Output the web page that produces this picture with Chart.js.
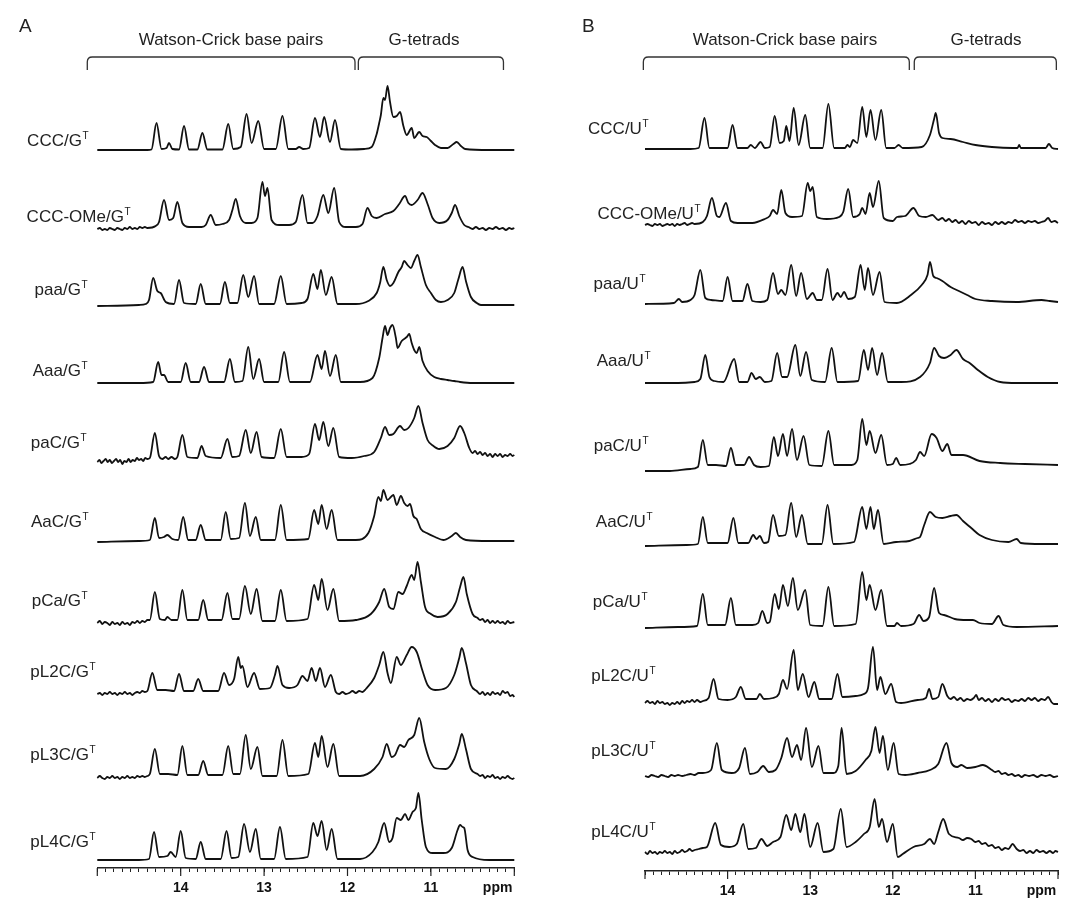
<!DOCTYPE html>
<html><head><meta charset="utf-8">
<script src="https://cdn.jsdelivr.net/npm/chart.js@4.4.1/dist/chart.umd.min.js"></script>
<style>
html,body{margin:0;padding:0;background:#fff;}
#wrap{position:relative;width:1066px;height:901px;overflow:hidden;}
.pane{position:absolute;top:0;width:533px;height:901px;}
</style></head><body>
<div id="wrap">
<div class="pane" style="left:0"><canvas id="cA" width="533" height="901"></canvas></div>
<div class="pane" style="left:533px"><canvas id="cB" width="533" height="901"></canvas></div>
</div>
<script>
// ---------------- DATA (ppm, intensity pairs) ----------------
const namesA = ['CCC/G','CCC-OMe/G','paa/G','Aaa/G','paC/G','AaC/G','pCa/G','pL2C/G','pL3C/G','pL4C/G'];
const namesB = ['CCC/U','CCC-OMe/U','paa/U','Aaa/U','paC/U','AaC/U','pCa/U','pL2C/U','pL3C/U','pL4C/U'];
const superscript = 'T';
const panelLetters = ['A','B'];
const headers = ['Watson-Crick base pairs','G-tetrads'];
const majorTicks = [14,13,12,11];
const unitLabel = 'ppm';
const bracketsA = [[15.12,11.91],[11.87,10.13]];
const bracketsB = [[15.02,11.80],[11.74,10.02]];

const A_CCC = [15.0,0, 14.40,0, 14.35,0.5, 14.29,27, 14.23,1, 14.17,2, 14.14,7, 14.10,1, 14.02,0.5, 13.96,24, 13.90,0.5, 13.80,0.5, 13.74,17, 13.68,0.5, 13.50,0.5, 13.43,26, 13.37,1, 13.28,3, 13.21,36, 13.15,7, 13.07,29, 13.00,1, 12.86,1, 12.78,34, 12.71,1, 12.62,1, 12.58,3, 12.53,1, 12.46,2, 12.39,32, 12.33,13, 12.28,33, 12.21,8, 12.15,30, 12.08,1, 11.95,0.5, 11.80,1, 11.71,3, 11.65,16, 11.62,27, 11.60,35, 11.57,52, 11.55,50, 11.52,64, 11.49,48, 11.45,33, 11.41,34, 11.37,38, 11.33,24, 11.29,15, 11.23,22, 11.20,12, 11.14,18, 11.10,14, 11.05,13, 11.00,9, 10.95,5, 10.88,2, 10.80,2, 10.73,6, 10.69,8, 10.64,4, 10.59,1, 10.30,0, 10.00,0];
const A_CCC_OMe = [15.0,-1, 14.97,0, 14.94,-2, 14.91,-1, 14.88,-2, 14.85,0, 14.82,-1, 14.79,-2, 14.76,0, 14.73,-1, 14.70,-2, 14.67,0, 14.64,-1, 14.61,1, 14.58,-1, 14.55,0, 14.52,-1, 14.49,1, 14.46,0, 14.43,1, 14.40,0, 14.30,2, 14.26,6, 14.20,28, 14.14,8, 14.09,10, 14.04,26, 13.98,5, 13.90,1, 13.75,1, 13.70,3, 13.64,13, 13.58,3, 13.50,4, 13.42,8, 13.38,18, 13.34,29, 13.29,12, 13.22,5, 13.15,5, 13.08,10, 13.02,46, 12.99,32, 12.96,40, 12.91,8, 12.82,3, 12.70,3, 12.62,6, 12.54,33, 12.48,5, 12.42,5, 12.36,12, 12.29,33, 12.23,15, 12.16,40, 12.10,6, 12.02,1, 11.90,1, 11.82,4, 11.76,20, 11.71,12, 11.65,10, 11.55,14, 11.45,17, 11.38,24, 11.31,32, 11.27,25, 11.23,23, 11.16,28, 11.10,35, 11.04,24, 10.98,10, 10.90,5, 10.80,8, 10.75,15, 10.71,23, 10.66,12, 10.60,3, 10.55,1, 10.50,-1, 10.46,1, 10.42,-1, 10.38,0, 10.34,-2, 10.30,0, 10.26,-1, 10.22,1, 10.18,-1, 10.14,0, 10.10,-2, 10.06,0, 10.03,-1, 10.00,0];
const A_paa = [15.0,-1, 14.50,0, 14.42,1, 14.38,5, 14.33,27, 14.28,14, 14.24,12, 14.18,3, 14.08,1, 14.02,25, 13.96,2, 13.82,1, 13.76,21, 13.70,1, 13.53,1, 13.47,23, 13.41,2, 13.32,2, 13.25,30, 13.19,8, 13.12,29, 13.06,1, 12.88,1, 12.80,29, 12.73,1, 12.55,2, 12.48,6, 12.41,31, 12.36,16, 12.32,35, 12.26,10, 12.19,28, 12.12,1, 11.90,1, 11.75,4, 11.65,12, 11.61,22, 11.57,38, 11.53,25, 11.49,19, 11.45,22, 11.39,33, 11.35,38, 11.32,44, 11.28,40, 11.24,37, 11.20,44, 11.16,50, 11.12,38, 11.06,20, 11.00,12, 10.94,5, 10.88,3, 10.80,5, 10.72,12, 10.67,26, 10.62,38, 10.58,24, 10.52,8, 10.45,2, 10.40,0, 10.00,0];
const A_Aaa = [15.0,0, 14.50,0, 14.33,1, 14.27,21, 14.23,8, 14.20,8, 14.15,1, 14.00,1, 13.94,20, 13.88,1, 13.78,1, 13.72,16, 13.66,1, 13.48,1, 13.41,24, 13.35,1, 13.26,2, 13.19,36, 13.13,4, 13.06,24, 13.00,1, 12.83,1, 12.76,31, 12.69,1, 12.45,1, 12.36,28, 12.31,14, 12.27,32, 12.21,7, 12.14,28, 12.08,1, 11.85,1, 11.70,5, 11.62,25, 11.58,45, 11.55,57, 11.52,48, 11.49,55, 11.46,58, 11.42,45, 11.40,35, 11.35,42, 11.29,46, 11.26,49, 11.23,40, 11.20,33, 11.17,30, 11.14,36, 11.10,22, 11.04,12, 10.96,6, 10.88,4, 10.80,3, 10.72,2, 10.65,1, 10.50,0, 10.00,0];
const A_paC = [15.0,-4, 14.975,-2, 14.95,-5, 14.925,-3, 14.90,-1, 14.875,-4, 14.85,-2, 14.825,-5, 14.80,-3, 14.775,-1, 14.75,-4, 14.725,-2, 14.70,-6, 14.675,-3, 14.65,-4, 14.625,-1, 14.60,-4, 14.575,-2, 14.55,-3, 14.525,0, 14.50,-2, 14.475,-1, 14.45,-3, 14.425,0, 14.40,-1, 14.37,0, 14.31,25, 14.26,2, 14.22,-1, 14.18,1, 14.15,-1, 14.11,1, 14.07,-1, 14.04,1, 13.98,23, 13.92,1, 13.80,0, 13.75,12, 13.70,2, 13.52,0, 13.44,19, 13.38,1, 13.30,2, 13.22,28, 13.16,5, 13.09,26, 13.03,1, 12.88,0, 12.80,29, 12.73,1, 12.55,1, 12.46,4, 12.39,34, 12.34,18, 12.29,36, 12.23,12, 12.17,30, 12.10,1, 11.95,0, 11.80,2, 11.68,6, 11.60,20, 11.55,31, 11.50,23, 11.45,24, 11.37,32, 11.32,28, 11.27,30, 11.20,40, 11.15,52, 11.10,35, 11.04,18, 10.97,12, 10.90,9, 10.80,12, 10.72,20, 10.65,32, 10.60,25, 10.54,10, 10.50,5, 10.47,7, 10.44,4, 10.41,6, 10.38,3, 10.35,5, 10.32,2, 10.29,4, 10.26,1, 10.23,4, 10.20,2, 10.17,4, 10.14,1, 10.11,3, 10.08,2, 10.05,4, 10.02,2, 10.00,3];
const A_AaC = [15.0,-1, 14.50,0, 14.37,1, 14.31,23, 14.26,3, 14.20,4, 14.16,6, 14.10,2, 14.03,1, 13.97,24, 13.91,1, 13.82,1, 13.76,16, 13.70,1, 13.52,1, 13.46,29, 13.40,2, 13.30,3, 13.23,38, 13.17,5, 13.10,24, 13.04,1, 12.87,1, 12.80,36, 12.73,1, 12.47,2, 12.40,31, 12.35,17, 12.31,36, 12.25,12, 12.19,31, 12.12,1, 11.90,1, 11.75,8, 11.68,25, 11.63,44, 11.60,40, 11.57,51, 11.52,41, 11.48,44, 11.45,46, 11.41,36, 11.36,45, 11.32,38, 11.28,35, 11.25,37, 11.21,25, 11.17,22, 11.12,12, 11.05,8, 10.95,4, 10.85,1, 10.75,5, 10.70,8, 10.65,4, 10.58,1, 10.30,0, 10.00,0];
const A_pCa = [15.0,-1, 14.97,1, 14.94,-2, 14.91,0, 14.88,-1, 14.85,-3, 14.82,0, 14.79,-2, 14.76,-1, 14.73,-3, 14.70,0, 14.67,-2, 14.64,-1, 14.61,-3, 14.58,0, 14.55,-1, 14.52,1, 14.49,-1, 14.46,1, 14.43,0, 14.40,2, 14.37,2, 14.31,30, 14.25,3, 14.19,2, 14.16,5, 14.11,2, 14.04,2, 13.98,32, 13.92,2, 13.79,2, 13.73,22, 13.67,2, 13.51,2, 13.44,29, 13.38,3, 13.30,3, 13.23,36, 13.16,8, 13.09,33, 13.02,1, 12.87,1, 12.80,32, 12.73,1, 12.48,3, 12.40,37, 12.35,22, 12.31,43, 12.24,12, 12.17,33, 12.10,1, 11.90,2, 11.72,8, 11.62,20, 11.56,33, 11.50,15, 11.45,13, 11.39,30, 11.34,28, 11.29,36, 11.23,47, 11.20,42, 11.16,60, 11.12,40, 11.07,15, 11.00,8, 10.92,5, 10.80,8, 10.70,20, 10.65,35, 10.61,45, 10.57,28, 10.50,8, 10.44,4, 10.41,2, 10.38,3, 10.35,0, 10.32,2, 10.29,-1, 10.26,1, 10.23,-1, 10.20,1, 10.17,-1, 10.14,0, 10.11,-2, 10.08,1, 10.05,-1, 10.00,0];
const A_pL2C = [15.0,-1, 14.97,0, 14.94,-2, 14.91,0, 14.88,-1, 14.85,1, 14.82,-1, 14.79,0, 14.76,-2, 14.73,0, 14.70,-1, 14.67,1, 14.64,-1, 14.61,0, 14.58,-2, 14.55,0, 14.52,1, 14.49,0, 14.46,2, 14.43,1, 14.40,2, 14.34,20, 14.28,3, 14.18,3, 14.08,2, 14.02,19, 13.96,2, 13.85,2, 13.79,14, 13.73,2, 13.55,2, 13.48,20, 13.42,8, 13.36,14, 13.31,36, 13.28,25, 13.26,27, 13.20,6, 13.12,20, 13.05,4, 12.93,5, 12.87,18, 12.84,27, 12.78,8, 12.70,5, 12.60,8, 12.54,17, 12.48,12, 12.43,25, 12.38,12, 12.33,25, 12.27,6, 12.20,18, 12.14,1, 12.10,-1, 12.06,1, 12.02,-1, 11.98,0, 11.94,2, 11.90,0, 11.86,2, 11.82,1, 11.78,4, 11.68,15, 11.62,28, 11.57,41, 11.52,20, 11.48,10, 11.41,36, 11.36,28, 11.29,38, 11.23,46, 11.17,41, 11.10,22, 11.04,8, 10.95,3, 10.82,5, 10.72,18, 10.66,35, 10.63,45, 10.58,30, 10.52,8, 10.45,2, 10.41,-1, 10.38,1, 10.35,-2, 10.32,0, 10.29,-2, 10.26,1, 10.23,-1, 10.20,0, 10.17,-2, 10.14,2, 10.11,0, 10.08,1, 10.05,-3, 10.02,-2, 10.00,-4];
const A_pL3C = [15.0,-1, 14.97,1, 14.94,-1, 14.91,-2, 14.88,0, 14.85,-1, 14.82,1, 14.79,-1, 14.76,0, 14.73,-2, 14.70,0, 14.67,-1, 14.64,1, 14.61,-1, 14.58,0, 14.55,-1, 14.52,1, 14.49,0, 14.46,1, 14.43,0, 14.40,1, 14.37,3, 14.31,28, 14.25,3, 14.15,3, 14.04,2, 13.98,31, 13.92,2, 13.79,2, 13.73,16, 13.67,2, 13.50,2, 13.43,31, 13.37,3, 13.29,3, 13.22,42, 13.16,8, 13.08,30, 13.02,1, 12.85,1, 12.78,37, 12.71,1, 12.47,3, 12.39,34, 12.35,20, 12.31,41, 12.24,10, 12.17,33, 12.10,1, 11.85,1, 11.68,8, 11.58,20, 11.53,33, 11.47,20, 11.43,22, 11.37,32, 11.32,30, 11.27,37, 11.20,42, 11.14,59, 11.08,35, 11.02,18, 10.95,9, 10.82,8, 10.72,18, 10.66,33, 10.63,43, 10.58,28, 10.52,8, 10.44,3, 10.41,1, 10.38,2, 10.35,-1, 10.32,1, 10.29,0, 10.26,2, 10.23,-1, 10.20,0, 10.17,-2, 10.14,0, 10.11,-1, 10.08,1, 10.05,-1, 10.02,-2, 10.00,-1];
const A_pL4C = [15.0,0, 14.50,0, 14.38,1, 14.32,28, 14.26,3, 14.16,4, 14.12,8, 14.06,3, 14.00,29, 13.94,2, 13.82,1, 13.76,18, 13.70,1, 13.52,1, 13.45,29, 13.39,2, 13.31,3, 13.24,36, 13.17,8, 13.10,31, 13.04,1, 12.88,1, 12.81,33, 12.74,1, 12.48,3, 12.41,37, 12.36,24, 12.31,39, 12.25,10, 12.19,31, 12.12,1, 11.85,1, 11.70,8, 11.63,18, 11.56,37, 11.50,18, 11.46,22, 11.41,42, 11.36,40, 11.31,46, 11.27,40, 11.22,48, 11.18,52, 11.15,67, 11.11,40, 11.06,13, 10.98,7, 10.85,7, 10.75,12, 10.68,30, 10.65,35, 10.62,33, 10.60,32, 10.56,10, 10.50,3, 10.30,0, 10.00,0];

const B_CCC = [15.0,0, 14.45,0, 14.35,1, 14.28,31, 14.22,1, 14.00,1, 13.94,24, 13.88,1, 13.76,1, 13.72,4, 13.67,1, 13.60,7, 13.55,1, 13.49,2, 13.43,33, 13.37,6, 13.32,8, 13.29,23, 13.25,8, 13.20,41, 13.14,4, 13.06,34, 13.00,1, 12.85,1, 12.78,45, 12.71,1, 12.58,1, 12.55,4, 12.52,2, 12.48,9, 12.43,6, 12.37,42, 12.32,12, 12.27,39, 12.21,9, 12.14,39, 12.08,1, 11.98,1, 11.93,4, 11.88,1, 11.65,2, 11.55,14, 11.50,30, 11.48,36, 11.44,16, 11.40,11, 11.30,10, 11.15,7, 11.00,4, 10.80,2, 10.55,1, 10.49,1, 10.47,4, 10.45,1, 10.15,1, 10.11,5, 10.07,1, 10.00,0];
const B_CCC_OMe = [15.0,-1, 14.97,0, 14.94,-1, 14.91,-2, 14.88,0, 14.85,-1, 14.82,0, 14.79,-2, 14.76,-1, 14.73,0, 14.70,-1, 14.67,0, 14.64,-2, 14.61,0, 14.58,-1, 14.55,0, 14.52,1, 14.49,-1, 14.46,0, 14.43,1, 14.40,0, 14.30,2, 14.25,8, 14.19,26, 14.13,8, 14.10,7, 14.02,21, 13.96,3, 13.88,1, 13.70,1, 13.55,5, 13.49,8, 13.45,14, 13.40,10, 13.35,34, 13.30,11, 13.22,7, 13.10,8, 13.03,41, 13.00,33, 12.97,37, 12.92,7, 12.80,5, 12.65,7, 12.60,12, 12.54,35, 12.48,7, 12.40,10, 12.37,16, 12.33,10, 12.28,31, 12.24,17, 12.17,43, 12.11,6, 12.00,3, 11.95,7, 11.85,8, 11.75,16, 11.68,8, 11.60,7, 11.52,9, 11.45,4, 11.40,6, 11.36,3, 11.32,5, 11.28,2, 11.24,4, 11.20,1, 11.16,3, 11.12,0, 11.08,3, 11.04,1, 11.00,2, 10.96,-1, 10.92,2, 10.88,0, 10.84,1, 10.80,-1, 10.76,2, 10.72,0, 10.68,2, 10.64,0, 10.60,2, 10.56,1, 10.52,4, 10.48,2, 10.44,3, 10.40,1, 10.36,3, 10.32,2, 10.28,3, 10.24,1, 10.20,2, 10.16,3, 10.12,6, 10.08,2, 10.04,3, 10.00,1];
const B_paa = [15.0,-1, 14.65,0, 14.59,4, 14.55,1, 14.45,3, 14.40,8, 14.33,33, 14.27,5, 14.20,3, 14.06,2, 14.00,26, 13.94,2, 13.82,2, 13.76,19, 13.70,2, 13.60,1, 13.52,3, 13.45,30, 13.39,9, 13.35,13, 13.30,8, 13.23,38, 13.17,7, 13.11,30, 13.04,4, 12.97,10, 12.92,3, 12.86,3, 12.79,34, 12.73,3, 12.67,10, 12.63,6, 12.59,11, 12.54,4, 12.46,6, 12.39,38, 12.34,13, 12.30,35, 12.24,8, 12.16,31, 12.10,1, 11.95,0, 11.78,8, 11.65,18, 11.58,28, 11.55,41, 11.51,27, 11.47,25, 11.40,22, 11.30,16, 11.20,12, 11.10,8, 11.00,4, 10.80,2, 10.50,1, 10.20,3, 10.10,2, 10.00,1];
const B_Aaa = [15.0,0, 14.60,0, 14.40,1, 14.33,4, 14.27,28, 14.22,6, 14.16,2, 14.05,1, 13.92,24, 13.86,1, 13.76,1, 13.71,10, 13.66,4, 13.61,6, 13.55,1, 13.47,2, 13.40,30, 13.34,6, 13.28,6, 13.18,38, 13.12,7, 13.05,31, 12.98,3, 12.82,1, 12.74,35, 12.67,1, 12.42,2, 12.35,33, 12.30,13, 12.25,35, 12.19,8, 12.13,30, 12.06,1, 11.90,1, 11.67,6, 11.55,20, 11.50,35, 11.44,27, 11.38,25, 11.30,28, 11.23,33, 11.15,24, 11.07,20, 10.97,13, 10.85,6, 10.70,1, 10.50,0, 10.00,0];
const B_paC = [15.0,-3, 14.70,-3, 14.45,-1, 14.36,1, 14.30,28, 14.24,3, 14.14,3, 14.02,2, 13.96,20, 13.90,3, 13.80,3, 13.74,11, 13.68,3, 13.60,1, 13.50,2, 13.44,31, 13.39,12, 13.33,34, 13.28,12, 13.22,39, 13.16,8, 13.08,32, 13.01,3, 12.86,2, 12.78,37, 12.71,3, 12.50,3, 12.43,8, 12.37,49, 12.32,23, 12.28,37, 12.21,15, 12.14,33, 12.07,3, 12.00,4, 11.96,10, 11.91,3, 11.80,4, 11.72,8, 11.67,16, 11.62,12, 11.53,34, 11.47,30, 11.40,17, 11.34,24, 11.29,13, 11.15,13, 10.95,7, 10.70,5, 10.40,4, 10.00,3];
const B_AaC = [15.0,-1, 14.50,0, 14.36,1, 14.30,28, 14.24,2, 14.00,2, 13.93,27, 13.87,2, 13.75,2, 13.69,10, 13.65,6, 13.61,9, 13.56,2, 13.51,3, 13.45,30, 13.38,9, 13.30,10, 13.23,42, 13.17,8, 13.10,30, 13.03,1, 12.86,1, 12.79,40, 12.72,1, 12.47,3, 12.37,38, 12.32,16, 12.27,38, 12.23,16, 12.18,35, 12.11,1, 11.96,3, 11.80,4, 11.70,7, 11.67,8, 11.62,20, 11.55,33, 11.48,28, 11.40,27, 11.30,29, 11.23,30, 11.15,24, 11.05,17, 10.95,10, 10.80,5, 10.60,3, 10.50,6, 10.45,2, 10.20,1, 10.00,1];
const B_pCa = [15.0,-1, 14.60,0, 14.37,1, 14.30,33, 14.24,2, 14.03,2, 13.96,29, 13.90,2, 13.70,2, 13.63,4, 13.58,16, 13.52,4, 13.49,5, 13.43,33, 13.38,18, 13.33,42, 13.27,21, 13.21,49, 13.15,17, 13.06,37, 13.00,2, 12.85,1, 12.78,40, 12.71,1, 12.45,3, 12.37,55, 12.32,27, 12.28,42, 12.21,17, 12.14,37, 12.07,1, 11.98,1, 11.95,4, 11.90,1, 11.75,3, 11.68,12, 11.63,6, 11.56,10, 11.50,39, 11.44,14, 11.38,12, 11.25,8, 11.10,7, 11.03,7, 10.95,4, 10.80,3, 10.72,11, 10.66,2, 10.50,0, 10.00,1];
const B_pL2C = [15.0,-1, 14.97,1, 14.94,-1, 14.91,0, 14.88,-2, 14.85,1, 14.82,-1, 14.79,0, 14.76,-2, 14.73,-1, 14.70,-3, 14.67,-1, 14.64,-2, 14.61,0, 14.58,-2, 14.55,1, 14.52,-1, 14.49,1, 14.46,0, 14.43,2, 14.40,0, 14.37,2, 14.33,0, 14.30,1, 14.23,4, 14.17,23, 14.11,3, 14.00,2, 13.90,5, 13.84,15, 13.78,3, 13.65,3, 13.61,8, 13.56,3, 13.45,4, 13.38,8, 13.33,22, 13.28,13, 13.20,52, 13.15,12, 13.09,28, 13.02,5, 12.95,20, 12.89,3, 12.74,3, 12.67,28, 12.61,5, 12.45,6, 12.35,8, 12.30,14, 12.24,55, 12.19,12, 12.15,25, 12.09,8, 12.02,18, 11.96,0, 11.90,-1, 11.70,2, 11.60,4, 11.56,13, 11.52,3, 11.45,5, 11.40,18, 11.34,6, 11.30,3, 11.26,5, 11.22,2, 11.18,4, 11.14,1, 11.10,3, 11.06,2, 11.02,4, 10.99,7, 10.96,2, 10.92,4, 10.88,1, 10.84,3, 10.80,0, 10.76,3, 10.72,1, 10.68,4, 10.64,2, 10.60,3, 10.56,0, 10.52,2, 10.48,1, 10.44,3, 10.40,1, 10.36,4, 10.32,2, 10.28,4, 10.24,1, 10.20,3, 10.16,2, 10.12,5, 10.08,0, 10.05,-2, 10.00,-2];
const B_pL3C = [15.0,0, 14.96,-1, 14.92,1, 14.88,0, 14.84,-1, 14.80,1, 14.76,0, 14.72,-1, 14.68,1, 14.64,0, 14.60,1, 14.55,0, 14.50,1, 14.45,2, 14.40,1, 14.35,3, 14.30,3, 14.20,6, 14.13,33, 14.07,6, 13.95,3, 13.86,8, 13.79,28, 13.73,2, 13.64,4, 13.57,10, 13.50,4, 13.42,6, 13.35,18, 13.28,38, 13.22,19, 13.16,31, 13.11,16, 13.05,48, 12.98,9, 12.90,30, 12.84,3, 12.72,3, 12.66,10, 12.62,48, 12.56,2, 12.45,5, 12.33,16, 12.26,25, 12.21,49, 12.16,23, 12.12,40, 12.06,6, 11.99,33, 11.93,2, 11.85,1, 11.70,3, 11.55,6, 11.45,12, 11.35,33, 11.29,13, 11.22,9, 11.17,11, 11.10,8, 11.00,9, 10.91,11, 10.80,6, 10.76,4, 10.72,5, 10.68,2, 10.64,3, 10.60,1, 10.56,2, 10.52,0, 10.48,1, 10.44,-1, 10.40,1, 10.35,0, 10.30,1, 10.25,-1, 10.20,1, 10.15,0, 10.10,1, 10.05,-1, 10.00,0];
const B_pL4C = [15.0,0, 14.97,-2, 14.94,1, 14.91,-1, 14.88,0, 14.85,-2, 14.82,0, 14.79,-1, 14.76,1, 14.73,-1, 14.70,0, 14.67,-2, 14.64,1, 14.61,-1, 14.58,0, 14.55,2, 14.52,0, 14.49,1, 14.46,3, 14.43,1, 14.40,2, 14.35,3, 14.30,4, 14.25,5, 14.15,29, 14.08,7, 13.98,5, 13.89,8, 13.81,28, 13.75,3, 13.66,4, 13.59,13, 13.52,6, 13.45,10, 13.36,15, 13.29,37, 13.23,22, 13.18,38, 13.12,20, 13.07,38, 13.00,5, 12.91,29, 12.84,0, 12.72,3, 12.63,43, 12.56,5, 12.45,10, 12.35,18, 12.28,25, 12.22,53, 12.17,25, 12.13,33, 12.07,10, 12.00,28, 11.94,-5, 11.88,-2, 11.75,5, 11.62,8, 11.55,13, 11.50,8, 11.45,20, 11.39,33, 11.32,18, 11.20,14, 11.15,12, 11.10,14, 11.05,13, 11.00,10, 10.96,11, 10.92,8, 10.88,9, 10.84,6, 10.80,7, 10.76,4, 10.72,5, 10.68,2, 10.64,4, 10.60,3, 10.55,8, 10.50,3, 10.46,1, 10.42,2, 10.38,-1, 10.34,1, 10.30,-1, 10.26,2, 10.22,0, 10.18,1, 10.14,-1, 10.10,1, 10.06,-1, 10.03,1, 10.00,0];

const spectraA = [A_CCC, A_CCC_OMe, A_paa, A_Aaa, A_paC, A_AaC, A_pCa, A_pL2C, A_pL3C, A_pL4C];
const spectraB = [B_CCC, B_CCC_OMe, B_paa, B_Aaa, B_paC, B_AaC, B_pCa, B_pL2C, B_pL3C, B_pL4C];

// ---------------- LAYOUT (pixels) ----------------
const LAYOUT_A = {
  key: 'A', canvasLeft: 0, areaLeft: 97.3, areaRight: 514.3, areaTop: 80, areaBottom: 868,
  baselines: [150, 228, 305, 383, 458, 541, 622, 693, 777, 860],
  labelRight: [88, 130, 87, 87, 86, 88, 87, 95, 95, 95],
  labelY: [141, 217, 290, 371, 443, 522, 601, 672, 755, 842],
  letterX: 19, headerX: [231, 424], brackets: bracketsA
};
const LAYOUT_B = {
  key: 'B', canvasLeft: 533, areaLeft: 645, areaRight: 1062.7, areaTop: 80, areaBottom: 871,
  baselines: [149, 224, 303, 383, 468, 545, 627, 702, 776, 852],
  labelRight: [648, 700, 645, 650, 648, 652, 647, 655, 655, 655],
  labelY: [129, 214, 284, 361, 446, 522, 602, 676, 751, 832],
  letterX: 582, headerX: [785, 986], brackets: bracketsB
};

const FONT = '"Liberation Sans", Arial, Helvetica, sans-serif';

function toPoints(arr, offset) {
  const pts = [];
  for (let i = 0; i < arr.length; i += 2) pts.push({x: arr[i], y: offset + arr[i + 1]});
  return pts;
}

function makeDeco(L, names) {
  return {
    id: 'deco' + L.key,
    afterDraw(chart) {
      const ctx = chart.ctx, xs = chart.scales.x, ys = chart.scales.y, ca = chart.chartArea;
      const cl = L.canvasLeft;
      ctx.save();
      // long major ticks
      ctx.strokeStyle = '#222'; ctx.lineWidth = 1.2;
      xs.ticks.forEach(t => {
        if (Math.round(t.value * 10) % 10 === 0) {
          const px = xs.getPixelForValue(t.value);
          ctx.beginPath(); ctx.moveTo(px, ca.bottom); ctx.lineTo(px, ca.bottom + 8); ctx.stroke();
        }
      });
      // trace labels
      const mainFont = '17px ' + FONT, supFont = '10px ' + FONT;
      ctx.fillStyle = '#222'; ctx.textBaseline = 'middle'; ctx.textAlign = 'left';
      names.forEach((nm, i) => {
        const rise = L.baselines[i] - L.labelY[i];
        const y = ys.getPixelForValue(L.areaBottom - L.baselines[i]) - rise;
        ctx.font = supFont; const sw = ctx.measureText(superscript).width;
        ctx.font = mainFont; const mw = ctx.measureText(nm).width;
        const x0 = L.labelRight[i] - cl - sw - mw;
        ctx.fillText(nm, x0, y);
        ctx.font = supFont; ctx.fillText(superscript, x0 + mw + 0.5, y - 5);
      });
      // brackets + headers
      ctx.strokeStyle = '#333'; ctx.lineWidth = 1.3;
      L.brackets.forEach((br, j) => {
        const x1 = xs.getPixelForValue(br[0]), x2 = xs.getPixelForValue(br[1]);
        const top = 57, bot = 70, r = 5;
        ctx.beginPath();
        ctx.moveTo(x1, bot); ctx.lineTo(x1, top + r);
        ctx.quadraticCurveTo(x1, top, x1 + r, top);
        ctx.lineTo(x2 - r, top);
        ctx.quadraticCurveTo(x2, top, x2, top + r);
        ctx.lineTo(x2, bot);
        ctx.stroke();
        ctx.font = '17px ' + FONT; ctx.textAlign = 'center';
        ctx.fillText(headers[j], L.headerX[j] - cl, 40);
      });
      // panel letter
      ctx.font = '19px ' + FONT; ctx.textAlign = 'left';
      ctx.fillText(panelLetters[L.key === 'A' ? 0 : 1], L.letterX - cl, 27);
      ctx.restore();
    }
  };
}

function build(id, spectra, names, L) {
  const W = 533;
  const datasets = spectra.map((arr, i) => ({
    label: names[i],
    data: toPoints(arr, L.areaBottom - L.baselines[i]),
    borderColor: '#111', borderWidth: 1.8, pointRadius: 0, fill: false,
    cubicInterpolationMode: 'monotone', borderJoinStyle: 'round', clip: false
  }));
  return new Chart(document.getElementById(id), {
    type: 'line',
    data: {datasets},
    options: {
      responsive: false, animation: false, events: [],
      layout: {padding: {left: L.areaLeft - L.canvasLeft, right: W - (L.areaRight - L.canvasLeft), top: L.areaTop, bottom: 0}},
      plugins: {legend: {display: false}, tooltip: {enabled: false}},
      scales: {
        x: {
          type: 'linear', reverse: true, min: 10, max: 15, position: 'bottom',
          afterFit: s => { s.height = 901 - L.areaBottom; },
          border: {display: true, color: '#222', width: 1.5},
          grid: {display: true, drawOnChartArea: false, drawTicks: true, tickLength: 4, color: '#222', lineWidth: 1},
          ticks: {
            stepSize: 0.1, autoSkip: false, maxRotation: 0, minRotation: 0, padding: 8, color: '#111',
            font: {family: FONT, size: 14, weight: 'bold'},
            callback: v => {
              const t = Math.round(v * 10);
              if (majorTicks.includes(t / 10)) return String(t / 10);
              if (t === 102) return unitLabel;
              return '';
            }
          }
        },
        y: {type: 'linear', display: false, min: 0, max: L.areaBottom - L.areaTop}
      }
    },
    plugins: [makeDeco(L, names)]
  });
}

build('cA', spectraA, namesA, LAYOUT_A);
build('cB', spectraB, namesB, LAYOUT_B);
</script>
</body></html>
